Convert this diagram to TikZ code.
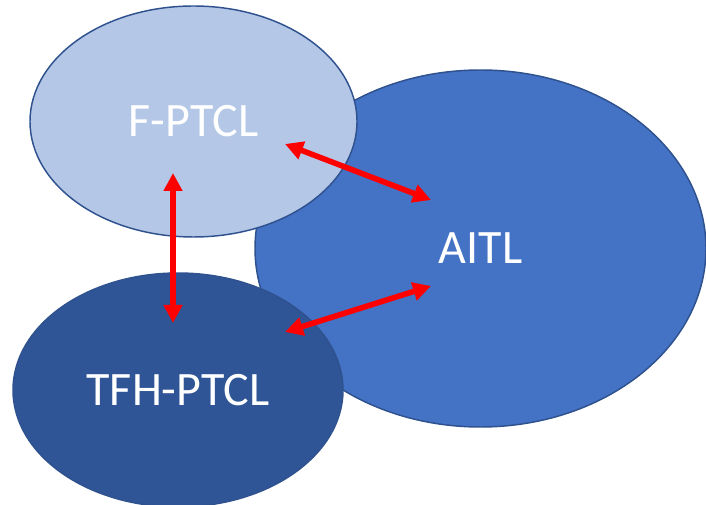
\documentclass[tikz,border=0pt]{standalone}
\usepackage{fontspec}
\setmainfont{Carlito}
\usetikzlibrary{shapes.geometric,arrows.meta}
\definecolor{fptcl}{HTML}{B4C7E7}
\definecolor{aitl}{HTML}{4472C4}
\definecolor{tfh}{HTML}{2F5597}
\definecolor{edgeblue}{HTML}{2F528F}
\definecolor{arrowred}{HTML}{FF0000}
\tikzset{
  blob/.style={ellipse, draw=edgeblue, line width=1.1pt, inner sep=0pt,
    text=white, font=\fontsize{36}{40}\selectfont},
  link/.style={draw=arrowred, line width=4.2pt,
    {Triangle[length=13.5pt,width=13.5pt]}-{Triangle[length=13.5pt,width=13.5pt]}}
}
\begin{document}
\begin{tikzpicture}[x=0.75pt,y=-0.75pt]
\useasboundingbox (0,0) rectangle (706,505);
\node[blob, fill=aitl, minimum width=338.25pt, minimum height=267.75pt] (aitl) at (480.5,248.5) {AITL};
\node[blob, fill=fptcl, minimum width=245.25pt, minimum height=173.25pt] (fptcl) at (193.5,121.5) {F-PTCL};
\node[blob, fill=tfh, minimum width=247.5pt, minimum height=175.5pt] (tfh) at (178,390) {TFH-PTCL};
\coordinate (v1) at (173,173);
\coordinate (v2) at (173,323);
\coordinate (d1) at (285,144);
\coordinate (d2) at (431,200);
\coordinate (e1) at (431,286);
\coordinate (e2) at (285,332);
\draw[link] (v1) -- (v2);
\draw[link] (d1) -- (d2);
\draw[link] (e1) -- (e2);
\end{tikzpicture}
\end{document}
